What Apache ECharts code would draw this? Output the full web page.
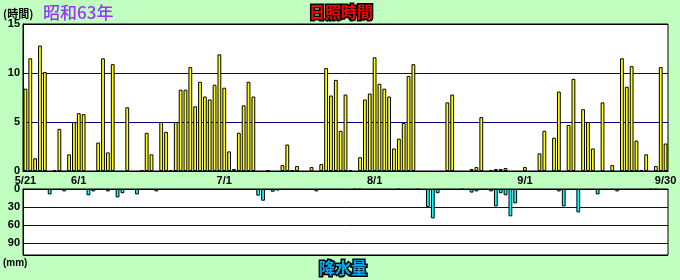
<!DOCTYPE html>
<html><head><meta charset="utf-8">
<script src="https://cdn.jsdelivr.net/npm/echarts@6/dist/echarts.min.js"></script>
<style>html,body{margin:0;padding:0;background:#C0FFC0;}#c{width:680px;height:280px;}</style>
</head><body><div id="c"></div>
<script>
// 1988 (昭和63年) 5/21 - 9/30, daily
const startYear = 1988, startMonth = 5, startDay = 21, dayCount = 133;
const tickLabels = ['5/21', '6/1', '7/1', '8/1', '9/1', '9/30'];
const sunTicks = [0, 5, 10, 15];
const rainTicks = [0, 30, 60, 90];

// sunshine hours per day (0 = no bar, 0.1 = empty outline bar)
const sunshine = [
  8.4, 11.5, 1.3, 12.8, 10.1, 0, 0.1, 4.3, 0, 1.7,
  5.0, 5.9, 5.8, 0, 0, 2.9, 11.5, 1.9, 10.9, 0,
  0, 6.5, 0, 0, 0.1, 3.9, 1.7, 0, 5.0, 4.0,
  0.1, 5.0, 8.3, 8.3, 10.6, 6.6, 9.1, 7.6, 7.3, 8.8,
  11.9, 8.5, 2.0, 0.2, 3.9, 6.7, 9.1, 7.6, 0, 0,
  0.1, 0, 0, 0.6, 2.7, 0.1, 0.5, 0, 0, 0.4,
  0, 0.7, 10.5, 7.7, 9.3, 4.1, 7.8, 0.1, 0, 1.4,
  7.3, 7.9, 11.6, 8.9, 8.4, 7.6, 2.3, 3.3, 4.9, 9.7,
  10.9, 0, 0, 0, 0, 0, 0, 7.0, 7.8, 0,
  0, 0, 0.2, 0.4, 5.5, 0, 0.1, 0.2, 0.2, 0.3,
  0, 0, 0, 0.4, 0, 0, 1.8, 4.1, 0, 3.4,
  8.1, 0, 4.7, 9.4, 0, 6.3, 5.0, 2.3, 0, 7.0,
  0, 0.6, 0, 11.5, 8.6, 10.7, 3.1, 0.1, 1.7, 0,
  0.5, 10.6, 2.8
];

// precipitation (mm) on rainy days
const rainDates = ['5/26','5/29','6/3','6/4','6/7','6/9','6/10','6/13','6/17',
  '7/8','7/9','7/11','7/12','7/20','7/28','7/29',
  '8/6','8/10','8/12','8/13','8/14','8/19','8/21','8/22','8/25','8/26','8/27','8/28','8/29','8/30',
  '9/8','9/9','9/12','9/16','9/20','9/27','9/28'];
const rainMm = [9, 4, 10.5, 4, 4, 14, 7, 9, 4,
  11, 19.5, 4.5, 2.5, 4, 1, 1,
  1, 1, 30, 49, 7, 1, 6, 4, 4, 29, 7, 10.5, 45.5, 24,
  4, 29, 39, 9, 4, 1, 1];

const categories = [];
for (let i = 0; i < dayCount; i++) {
  const d = new Date(Date.UTC(startYear, startMonth - 1, startDay + i));
  categories.push((d.getUTCMonth() + 1) + '/' + d.getUTCDate());
}
const sunData = sunshine.map(v => v === 0 ? '-' : v);
const rainData = categories.map(c => {
  const k = rainDates.indexOf(c);
  return k >= 0 ? rainMm[k] : '-';
});

const FONT = 'Liberation Sans';
const chart = echarts.init(document.getElementById('c'), null, {renderer: 'canvas'});
chart.setOption({
  backgroundColor: '#C0FFC0',
  animation: false,
  grid: [
    {left: 23, right: 12, top: 24, height: 147, show: true, backgroundColor: '#fff', borderColor: '#000', borderWidth: 1},
    {left: 23, right: 12, top: 189, height: 66, show: true, backgroundColor: '#fff', borderColor: '#000', borderWidth: 1}
  ],
  xAxis: [
    {type: 'category', gridIndex: 0, data: categories, boundaryGap: true,
     axisLine: {lineStyle: {color: '#000', width: 1}}, axisTick: {show: false},
     axisLabel: {interval: (i, v) => tickLabels.indexOf(v) >= 0, color: '#000', fontWeight: 'bold',
       fontSize: 11, fontFamily: FONT, margin: 4}},
    {type: 'category', gridIndex: 1, data: categories, boundaryGap: true, position: 'top',
     axisLine: {lineStyle: {color: '#000', width: 1}}, axisTick: {show: false}, axisLabel: {show: false}}
  ],
  yAxis: [
    {type: 'value', gridIndex: 0, min: sunTicks[0], max: sunTicks[sunTicks.length - 1], interval: 5,
     axisLine: {show: true, lineStyle: {color: '#000'}}, axisTick: {show: false},
     axisLabel: {color: '#000', fontWeight: 'bold', fontSize: 11, fontFamily: FONT, margin: 3},
     splitLine: {show: true, lineStyle: {color: ['#000', '#000080', '#000080', '#000'], width: 1}}},
    {type: 'value', gridIndex: 1, min: 0, max: 110, interval: 30, inverse: true,
     axisLine: {show: true, lineStyle: {color: '#000'}}, axisTick: {show: false},
     axisLabel: {color: '#000', fontWeight: 'bold', fontSize: 11, fontFamily: FONT, margin: 3,
       formatter: v => rainTicks.indexOf(v) >= 0 ? String(v) : ''},
     splitLine: {show: true, lineStyle: {color: ['#000', '#000080', '#000080', '#000080', '#000'], width: 1}}}
  ],
  series: [
    {type: 'bar', xAxisIndex: 0, yAxisIndex: 0, data: sunData, barWidth: 3.8,
     itemStyle: {color: '#FFFF00', borderColor: '#000', borderWidth: 1}},
    {type: 'bar', xAxisIndex: 1, yAxisIndex: 1, data: rainData, barWidth: 3.8,
     itemStyle: {color: '#00FFFF', borderColor: '#000', borderWidth: 1}}
  ],
  graphic: [
    {type: 'text', x: 3, y: 14, style: {text: '(時間)', fill: '#000', font: 'bold 11px "Noto Sans CJK JP"', verticalAlign: 'middle'}},
    {type: 'text', x: 43, y: 13, style: {text: '昭和63年', fill: '#9933FF', font: '500 17px "Noto Sans CJK JP"', verticalAlign: 'middle'}},
    {type: 'text', x: 341, y: 12, style: {text: '日照時間', fill: '#FF0000', stroke: '#000', lineWidth: 3, strokeFirst: true,
      font: 'bold 16px "Noto Sans CJK JP"', align: 'center', verticalAlign: 'middle'}},
    {type: 'text', x: 343, y: 268, style: {text: '降水量', fill: '#00AAEE', stroke: '#000', lineWidth: 3, strokeFirst: true,
      font: 'bold 16px "Noto Sans CJK JP"', align: 'center', verticalAlign: 'middle'}},
    {type: 'text', x: 3, y: 263, style: {text: '(mm)', fill: '#000', font: 'bold 10px "Liberation Sans"', verticalAlign: 'middle'}}
  ]
});
</script>
</body></html>
